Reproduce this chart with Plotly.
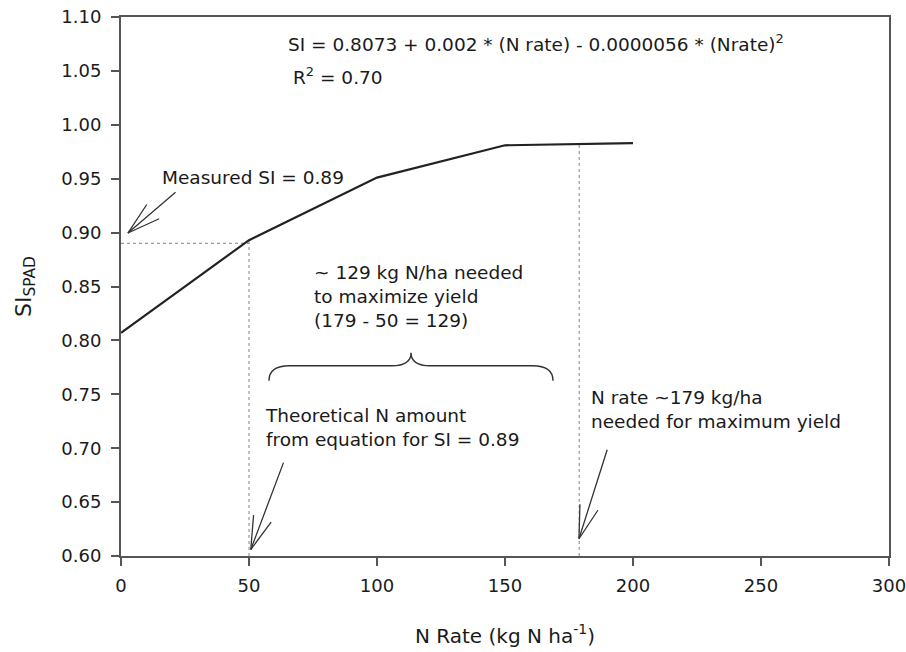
import math
import plotly.graph_objects as go

# ---- data ----
n_rate = [0, 50, 100, 150, 200]
si_spad = [0.807, 0.893, 0.951, 0.981, 0.983]

x_ticks = [0, 50, 100, 150, 200, 250, 300]
y_ticks = [0.60, 0.65, 0.70, 0.75, 0.80, 0.85, 0.90, 0.95, 1.00, 1.05, 1.10]
y_tick_labels = ["0.60", "0.65", "0.70", "0.75", "0.80", "0.85", "0.90", "0.95", "1.00", "1.05", "1.10"]

measured_si = 0.89
theoretical_n = 50
max_n = 179
max_si = 0.982
theo_si = 0.893

# arrows: (tip_x, tip_y, tail_x, tail_y)
arrow_tip_x = [2.7, 50.7, 178.9]
arrow_tip_y = [0.8996, 0.606, 0.616]
arrow_tail_x = [21.9, 63.7, 190.1]
arrow_tail_y = [0.9386, 0.688, 0.700]

# brace: x start, x centre, x end, y end, y flat, y tip
brace = dict(x0=57.8, xc=113.3, x1=168.75, y_end=0.7626, y_flat=0.7765, y_tip=0.7886)

# text labels
labels = [
    ("SI = 0.8073 + 0.002 * (N rate) - 0.0000056 * (Nrate)<sup>2</sup>", 64.5, 1.076),
    ("R<sup>2</sup> = 0.70", 66.3, 1.045),
    ("Measured SI = 0.89", 15.2, 0.9507),
    ("~ 129 kg N/ha needed<br>to maximize yield<br>(179 - 50 = 129)", 74.5, 0.8403),
    ("Theoretical N amount<br>from equation for SI = 0.89", 55.35, 0.7192),
    ("N rate ~179 kg/ha<br>needed for maximum yield", 182.8, 0.7359),
]

# ---- layout geometry ----
W, H = 906, 652
ML, MR, MT, MB = 121, 17, 17, 96
XR = [0, 300]
YR = [0.60, 1.10]
px_per_x = (W - ML - MR) / (XR[1] - XR[0])
px_per_y = (H - MT - MB) / (YR[1] - YR[0])

FONT = "DejaVu Sans"
TXT = "#1a1a1a"
AX = "#555555"

fig = go.Figure()

# dotted guide lines
fig.add_trace(go.Scatter(x=[0, theoretical_n], y=[measured_si, measured_si], mode="lines",
                         line=dict(color="#9a9a9a", width=1.2, dash="dot"), hoverinfo="skip"))
fig.add_trace(go.Scatter(x=[theoretical_n, theoretical_n], y=[YR[0], theo_si], mode="lines",
                         line=dict(color="#9a9a9a", width=1.2, dash="dot"), hoverinfo="skip"))
fig.add_trace(go.Scatter(x=[max_n, max_n], y=[YR[0], max_si], mode="lines",
                         line=dict(color="#9a9a9a", width=1.2, dash="dot"), hoverinfo="skip"))

# main curve
fig.add_trace(go.Scatter(x=n_rate, y=si_spad, mode="lines",
                         line=dict(color="#222222", width=2.2), hoverinfo="skip"))

annotations = []
ARROW_COL = "#333333"
HEAD_LEN = 36
HEAD_ANG = math.radians(16)
for tx, ty, sx, sy in zip(arrow_tip_x, arrow_tip_y, arrow_tail_x, arrow_tail_y):
    # shaft
    annotations.append(dict(x=tx, y=ty, ax=sx, ay=sy, xref="x", yref="y", axref="x", ayref="y",
                            text="", showarrow=True, arrowhead=0, arrowwidth=1.3,
                            arrowcolor=ARROW_COL, standoff=0, startstandoff=0))
    # head (open V) in pixel offsets
    dx = (sx - tx) * px_per_x
    dy = -(sy - ty) * px_per_y
    ang = math.atan2(dy, dx)
    for s in (-1, 1):
        a = ang + s * HEAD_ANG
        annotations.append(dict(x=tx, y=ty, ax=HEAD_LEN * math.cos(a), ay=HEAD_LEN * math.sin(a),
                                xref="x", yref="y", text="", showarrow=True, arrowhead=0,
                                arrowwidth=1.3, arrowcolor=ARROW_COL, standoff=0, startstandoff=0))

for txt, x, y in labels:
    annotations.append(dict(x=x, y=y, xref="x", yref="y", text=txt, showarrow=False,
                            xanchor="left", yanchor="middle", align="left",
                            font=dict(family=FONT, size=18.5, color=TXT)))

# brace path
b = brace
dxe = 8.0
dxc = 7.5
path = (f"M {b['x0']},{b['y_end']} Q {b['x0']},{b['y_flat']} {b['x0'] + dxe},{b['y_flat']} "
        f"L {b['xc'] - dxc},{b['y_flat']} Q {b['xc']},{b['y_flat']} {b['xc']},{b['y_tip']} "
        f"Q {b['xc']},{b['y_flat']} {b['xc'] + dxc},{b['y_flat']} "
        f"L {b['x1'] - dxe},{b['y_flat']} Q {b['x1']},{b['y_flat']} {b['x1']},{b['y_end']}")
shapes = [dict(type="path", path=path, xref="x", yref="y", line=dict(color="#333333", width=1.4))]

fig.update_layout(
    width=W, height=H,
    margin=dict(l=ML, r=MR, t=MT, b=MB, autoexpand=False),
    paper_bgcolor="white", plot_bgcolor="white",
    showlegend=False,
    annotations=annotations,
    shapes=shapes,
    font=dict(family=FONT, size=18, color=TXT),
    xaxis=dict(range=XR, tickvals=x_ticks, ticks="outside", ticklen=8, tickwidth=1.5,
               tickcolor=AX, showline=True, linecolor=AX, linewidth=2, mirror=True,
               showgrid=False, zeroline=False, ticklabelstandoff=4, ticklabeloverflow="allow",
               automargin=False,
               tickfont=dict(family=FONT, size=18, color=TXT),
               title=dict(text="N Rate (kg N ha<sup>-1</sup>)", standoff=34,
                          font=dict(family=FONT, size=20, color=TXT))),
    yaxis=dict(range=YR, tickvals=y_ticks, ticktext=y_tick_labels, ticks="outside", ticklen=8,
               tickwidth=1.5, tickcolor=AX, showline=True, linecolor=AX, linewidth=2, mirror=True,
               showgrid=False, zeroline=False, ticklabelstandoff=6, automargin=False,
               tickfont=dict(family=FONT, size=18, color=TXT),
               title=dict(text="SI<sub>SPAD</sub>", standoff=24,
                          font=dict(family=FONT, size=22, color=TXT))),
)

fig.write_html("out.html", config={"displayModeBar": False},
               post_script="document.body.style.margin='0';")
